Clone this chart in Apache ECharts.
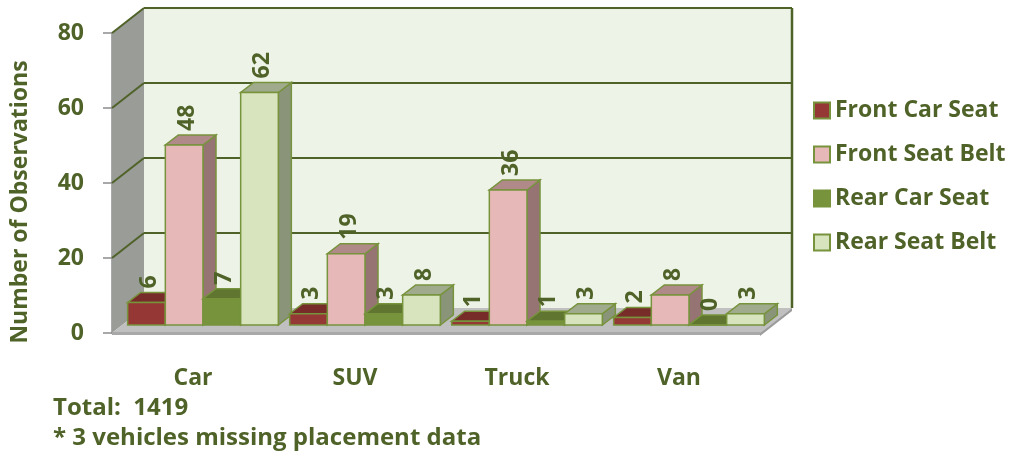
<!DOCTYPE html>
<html>
<head>
<meta charset="utf-8">
<script src="https://cdn.jsdelivr.net/npm/echarts@6.0.0/dist/echarts.min.js"></script>
<style>
  html, body { margin: 0; padding: 0; background: #fff; }
  #main { width: 1031px; height: 460px; }
</style>
</head>
<body>
<div id="main"></div>
<script>
// data
var categories = ['Car', 'SUV', 'Truck', 'Van'];
var seriesNames = ['Front Car Seat', 'Front Seat Belt', 'Rear Car Seat', 'Rear Seat Belt'];
var frontCarSeat = [6, 3, 1, 2];
var frontSeatBelt = [48, 19, 36, 8];
var rearCarSeat = [7, 3, 1, 0];
var rearSeatBelt = [62, 8, 3, 3];
var yTicks = [0, 20, 40, 60, 80];
var totalCount = 1419;
var missingCount = 3;

var TEXT = '#4f6228';
var EDGE = '#77933c';
var FONT = '"Open Sans", sans-serif';
// 3d look
var WALL_DX = 32, WALL_DY = -25;   // depth of back wall
var BAR_DX = 10, BAR_DY = -8;      // bars sit a bit back on the floor
var DEPTH_DX = 13, DEPTH_DY = -10; // depth of a bar
var GROUP_RATIO = 0.93;

var barColors = [
  { front: '#953735', top: '#772c2a', side: '#632523' },
  { front: '#e6b9b8', top: '#b08a89', side: '#957473' },
  { front: '#77933c', top: '#5f7530', side: '#4f6228' },
  { front: '#d7e4bd', top: '#a0aa8c', side: '#8a9478' }
];

function makeBarSeries (name, values, pos) {
  var c = barColors[pos];
  return {
    name: name,
    type: 'custom',
    z: 3,
    itemStyle: { color: c.front, borderColor: EDGE, borderWidth: 1.5 },
    encode: { x: 0, y: 1 },
    data: values.map(function (v, i) { return [i, v]; }),
    renderItem: function (params, api) {
      var ci = api.value(0), v = api.value(1);
      var band = api.size([1, 0])[0];
      var barW = band * GROUP_RATIO / 4;
      var base = api.coord([ci, 0]);
      var top = api.coord([ci, v]);
      var x0 = base[0] - barW * 2 + pos * barW + BAR_DX;
      var x1 = x0 + barW;
      var yB = base[1] + BAR_DY, yT = top[1] + BAR_DY;
      var order = (ci * 4 + pos) * 5;
      var st = function (fill) { return { fill: fill, stroke: EDGE, lineWidth: 1.5 }; };
      return {
        type: 'group',
        children: [
          { type: 'polygon', z2: order, shape: { points: [[x1, yT], [x1 + DEPTH_DX, yT + DEPTH_DY], [x1 + DEPTH_DX, yB + DEPTH_DY], [x1, yB]] }, style: st(c.side) },
          { type: 'polygon', z2: order + 1, shape: { points: [[x0, yT], [x1, yT], [x1 + DEPTH_DX, yT + DEPTH_DY], [x0 + DEPTH_DX, yT + DEPTH_DY]] }, style: st(c.top) },
          { type: 'rect', z2: order + 2, shape: { x: x0, y: yT, width: barW, height: yB - yT }, style: st(c.front) },
          { type: 'text', z2: 500, x: x0 + barW / 2 + 3, y: yT - 14, rotation: Math.PI / 2,
            style: { text: String(v), fill: TEXT, font: 'bold 23px ' + FONT, align: 'left', verticalAlign: 'middle' } }
        ]
      };
    }
  };
}

// walls + floor
var wallSeries = {
  name: 'walls',
  type: 'custom',
  z: 1,
  silent: true,
  data: [[0, 0]],
  renderItem: function (params, api) {
    var cs = params.coordSys;
    var l = cs.x, t = cs.y, r = cs.x + cs.width, b = cs.y + cs.height;
    return {
      type: 'group',
      children: [
        { type: 'rect', z2: 0, shape: { x: l + WALL_DX, y: t + WALL_DY, width: cs.width, height: cs.height }, style: { fill: '#edf3e6' } },
        { type: 'polygon', z2: 1, shape: { points: [[l, t], [l + WALL_DX, t + WALL_DY], [l + WALL_DX, b + WALL_DY], [l, b]] }, style: { fill: '#9a9c97' } },
        { type: 'polygon', z2: 2, shape: { points: [[l, b], [l + WALL_DX, b + WALL_DY], [r + WALL_DX, b + WALL_DY], [r, b]] }, style: { fill: '#c0c0c0' } },
        { type: 'polygon', z2: 3, shape: { points: [[r, b], [r + WALL_DX, b + WALL_DY], [r + WALL_DX, b + WALL_DY + 3], [r, b + 3]] }, style: { fill: '#9c9c9c' } },
        { type: 'rect', z2: 3, shape: { x: l, y: b - 1, width: cs.width, height: 3 }, style: { fill: '#a8a8a8' } },
        { type: 'line', z2: 4, shape: { x1: r + WALL_DX, y1: t + WALL_DY, x2: r + WALL_DX, y2: b + WALL_DY }, style: { stroke: TEXT, lineWidth: 2.5 } }
      ]
    };
  }
};

// gridlines on back wall and left wall
var gridSeries = {
  name: 'gridlines',
  type: 'custom',
  z: 2,
  silent: true,
  encode: { y: 1 },
  data: yTicks.map(function (v) { return [0, v]; }),
  renderItem: function (params, api) {
    var v = api.value(1);
    if (v === 0) return;
    var cs = params.coordSys;
    var y = api.coord([0, v])[1];
    var l = cs.x, r = cs.x + cs.width;
    return {
      type: 'group',
      children: [
        { type: 'line', shape: { x1: l + WALL_DX, y1: y + WALL_DY, x2: r + WALL_DX, y2: y + WALL_DY }, style: { stroke: TEXT, lineWidth: 2 } },
        { type: 'line', shape: { x1: l, y1: y, x2: l + WALL_DX, y2: y + WALL_DY }, style: { stroke: TEXT, lineWidth: 2 } }
      ]
    };
  }
};

var myChart = echarts.init(document.getElementById('main'));
myChart.setOption({
  animation: false,
  backgroundColor: '#fff',
  textStyle: { fontFamily: FONT },
  grid: { left: 112, top: 33, width: 648, height: 300 },
  legend: {
    data: seriesNames,
    orient: 'vertical',
    left: 808,
    top: 94,
    itemWidth: 16,
    itemHeight: 16,
    itemGap: 21,
    icon: 'rect',
    textStyle: { color: TEXT, fontSize: 23, fontWeight: 'bold', fontFamily: FONT }
  },
  xAxis: {
    type: 'category',
    data: categories,
    axisLine: { lineStyle: { color: '#8c8c8c', width: 1.5 } },
    axisTick: { length: 9, lineStyle: { color: '#8c8c8c', width: 1.5 } },
    axisLabel: { margin: 34, color: TEXT, fontSize: 23, fontWeight: 'bold', fontFamily: FONT },
    splitLine: { show: false }
  },
  yAxis: {
    type: 'value',
    min: 0,
    max: 80,
    interval: 20,
    name: 'Number of Observations',
    nameLocation: 'middle',
    nameGap: 80,
    nameTextStyle: { color: TEXT, fontSize: 23, fontWeight: 'bold', fontFamily: FONT, padding: [0, 38, 0, 0] },
    axisLine: { show: true, lineStyle: { color: '#8c8c8c', width: 1.5 } },
    axisTick: { show: true, length: 9, lineStyle: { color: '#8c8c8c', width: 1.5 } },
    axisLabel: { margin: 28, color: TEXT, fontSize: 23, fontWeight: 'bold', fontFamily: FONT },
    splitLine: { show: false }
  },
  graphic: [
    { type: 'text', left: 53, top: 396, style: { text: 'Total:  ' + totalCount, fill: TEXT, font: 'bold 24px ' + FONT } },
    { type: 'text', left: 53, top: 426, style: { text: '* ' + missingCount + ' vehicles missing placement data', fill: TEXT, font: 'bold 24px ' + FONT } }
  ],
  series: [
    wallSeries,
    gridSeries,
    makeBarSeries(seriesNames[0], frontCarSeat, 0),
    makeBarSeries(seriesNames[1], frontSeatBelt, 1),
    makeBarSeries(seriesNames[2], rearCarSeat, 2),
    makeBarSeries(seriesNames[3], rearSeatBelt, 3)
  ]
});
</script>
</body>
</html>
